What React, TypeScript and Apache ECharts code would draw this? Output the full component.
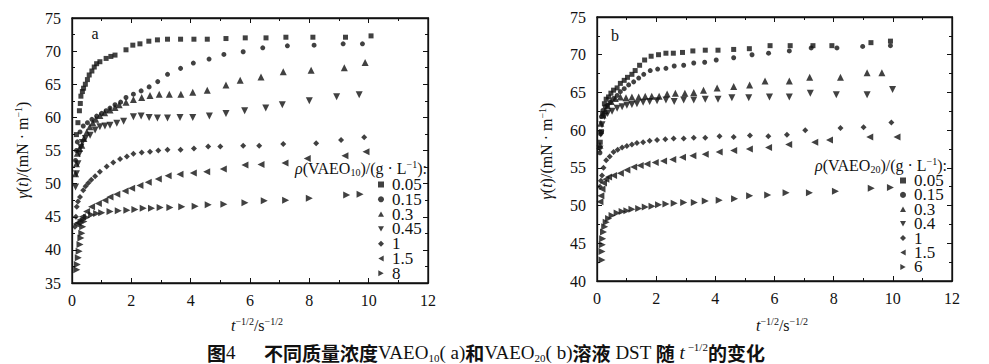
import React, { useEffect, useRef } from "react";
import * as echarts from "echarts";

// ---------- data (x = t^-1/2 in s^-1/2, y = gamma(t) in mN/m) ----------
// Panel a: VAEO10
const namesA = ["0.05", "0.15", "0.3", "0.45", "1", "1.5", "8"];
const a005 = [[0.15,57.4],[0.2,59.2],[0.25,61.0],[0.28,62.1],[0.3,63.2],[0.35,63.9],[0.39,64.4],[0.45,65.0],[0.52,65.7],[0.58,66.4],[0.67,67.0],[0.75,67.6],[0.83,68.1],[0.94,68.4],[1.15,68.9],[1.31,69.2],[1.45,69.4],[1.82,70.2],[2.05,70.9],[2.29,71.1],[2.59,71.5],[2.88,71.7],[3.22,71.8],[3.66,71.8],[4.11,71.8],[4.56,71.8],[5.19,71.9],[5.84,72.0],[6.54,72.0],[7.21,72.1],[8.12,72.1],[9.22,72.1],[10.08,72.3]];
const a015 = [[0.12,53.5],[0.15,55.0],[0.18,56.3],[0.27,57.8],[0.38,58.7],[0.52,59.2],[0.67,59.7],[0.83,60.2],[1.0,60.6],[1.15,61.0],[1.28,61.4],[1.45,61.9],[1.64,62.3],[1.82,63.0],[2.07,63.5],[2.33,64.0],[2.6,64.6],[2.89,65.4],[3.22,66.5],[3.66,67.4],[4.09,68.2],[4.62,68.8],[5.12,69.5],[5.77,69.9],[6.43,70.5],[7.26,70.8],[8.16,70.9],[9.14,71.1],[9.79,71.1]];
const a03 = [[0.12,51.5],[0.15,53.0],[0.18,54.6],[0.25,55.3],[0.33,55.8],[0.4,56.8],[0.5,57.8],[0.6,58.6],[0.7,59.2],[0.8,59.7],[0.94,60.3],[1.1,60.7],[1.28,61.1],[1.45,61.5],[1.59,61.9],[1.82,62.3],[2.07,62.7],[2.35,63.0],[2.63,63.3],[2.94,63.5],[3.28,63.5],[3.67,63.5],[4.07,63.8],[4.56,64.1],[5.19,64.9],[5.67,65.6],[6.37,66.1],[7.12,66.9],[8.06,67.1],[9.18,67.5],[9.88,68.3]];
const a045 = [[0.12,49.5],[0.15,51.5],[0.2,53.0],[0.25,54.5],[0.3,55.5],[0.35,56.2],[0.45,56.8],[0.61,57.3],[0.78,58.1],[0.94,58.6],[1.11,58.7],[1.28,58.8],[1.51,59.1],[1.74,59.4],[2.07,60.1],[2.33,60.2],[2.6,60.0],[2.88,59.9],[3.22,59.9],[3.64,60.0],[4.07,60.0],[4.63,60.2],[5.19,60.6],[5.82,61.0],[6.53,61.4],[7.09,61.9],[8.0,62.5],[8.92,63.1],[9.68,63.4]];
const a1 = [[0.1,43.5],[0.13,45.0],[0.16,46.5],[0.2,47.3],[0.27,48.0],[0.38,49.0],[0.46,49.6],[0.55,50.1],[0.65,50.6],[0.78,51.1],[0.94,51.8],[1.17,52.6],[1.39,53.2],[1.62,53.7],[1.85,54.1],[2.07,54.5],[2.35,54.7],[2.63,54.8],[2.91,55.0],[3.22,55.1],[3.66,55.1],[4.11,55.3],[4.59,55.6],[5.0,55.6],[5.77,55.7],[6.31,55.7],[7.12,56.0],[8.23,56.1],[9.07,56.6],[9.85,57.0]];
const a15 = [[0.14,43.9],[0.2,44.1],[0.27,44.5],[0.35,45.0],[0.49,45.8],[0.66,46.5],[0.89,47.0],[1.11,47.5],[1.28,48.0],[1.51,48.4],[1.79,48.9],[2.01,49.3],[2.29,49.7],[2.57,50.2],[2.91,50.7],[3.24,51.2],[3.64,51.4],[4.09,51.6],[4.54,51.8],[5.1,52.2],[5.83,52.8],[6.37,52.9],[7.18,53.1],[7.93,53.8],[9.2,54.2],[9.91,54.8]];
const a8 = [[0.16,37.0],[0.18,37.8],[0.21,38.8],[0.24,39.8],[0.27,40.8],[0.3,41.8],[0.33,42.5],[0.36,43.5],[0.4,44.3],[0.49,44.9],[0.66,45.3],[0.83,45.5],[1.0,45.6],[1.28,45.8],[1.56,45.9],[1.85,46.0],[2.12,46.1],[2.4,46.3],[2.68,46.3],[2.97,46.4],[3.3,46.4],[3.7,46.5],[4.15,46.6],[4.59,46.8],[5.12,46.9],[5.83,47.1],[6.48,47.4],[7.2,47.5],[8.0,47.8],[9.26,48.3],[9.71,48.4]];

// Panel b: VAEO20
const namesB = ["0.05", "0.15", "0.3", "0.4", "1", "1.5", "6"];
const b005 = [[0.11,58.4],[0.15,59.8],[0.19,62.2],[0.25,63.5],[0.31,64.1],[0.39,64.4],[0.47,64.9],[0.56,65.3],[0.68,65.6],[0.79,66.2],[0.92,66.6],[1.03,67.0],[1.18,67.4],[1.29,67.9],[1.44,68.6],[1.61,69.3],[1.83,69.8],[2.08,70.0],[2.33,70.2],[2.58,70.2],[2.89,70.3],[3.24,70.5],[3.66,70.6],[4.09,70.6],[4.62,70.7],[5.15,70.8],[5.85,71.2],[6.53,71.2],[7.3,71.2],[7.94,71.2],[9.26,71.6],[9.92,71.8]];
const b015 = [[0.1,57.0],[0.12,59.5],[0.15,61.8],[0.2,62.6],[0.28,63.1],[0.36,63.3],[0.45,63.7],[0.56,64.2],[0.68,64.6],[0.79,65.1],[0.92,65.5],[1.07,66.0],[1.24,66.4],[1.41,66.9],[1.58,67.4],[1.8,67.9],[2.05,68.1],[2.33,68.2],[2.61,68.5],[2.93,68.6],[3.27,68.9],[3.64,69.0],[4.03,69.3],[4.62,69.6],[5.24,70.0],[5.8,70.2],[6.5,70.5],[7.24,70.9],[8.11,70.9],[8.98,71.1],[9.92,71.2]];
const b03 = [[0.1,58.0],[0.13,60.9],[0.2,62.0],[0.28,62.6],[0.36,63.2],[0.48,63.8],[0.62,64.2],[0.79,64.4],[0.98,64.3],[1.18,64.4],[1.41,64.4],[1.63,64.5],[1.85,64.5],[2.1,64.5],[2.37,64.8],[2.65,64.9],[2.97,64.9],[3.27,65.0],[3.6,65.3],[4.06,65.6],[4.62,65.8],[5.16,66.0],[5.68,66.5],[6.5,66.5],[7.19,67.0],[8.23,67.0],[9.13,67.6],[9.63,67.6]];
const b04 = [[0.1,57.5],[0.13,59.5],[0.17,60.7],[0.25,61.8],[0.36,62.2],[0.51,62.5],[0.68,62.9],[0.85,63.1],[1.01,63.3],[1.18,63.4],[1.35,63.5],[1.56,63.7],[1.78,63.8],[2.03,63.9],[2.33,64.0],[2.61,63.8],[2.93,64.0],[3.27,64.0],[3.66,64.1],[4.09,64.1],[4.56,64.3],[5.13,64.3],[5.83,64.4],[6.5,64.4],[7.21,64.9],[8.09,64.7],[9.13,64.7],[9.99,65.4]];
const b1 = [[0.1,52.5],[0.13,53.3],[0.17,54.0],[0.22,55.0],[0.31,56.0],[0.43,56.5],[0.56,57.1],[0.7,57.4],[0.85,57.7],[1.01,57.9],[1.18,58.1],[1.35,58.3],[1.56,58.4],[1.78,58.6],[2.03,58.7],[2.31,58.8],[2.59,58.9],[2.93,58.9],[3.27,59.0],[3.66,59.0],[4.14,59.2],[4.62,59.1],[5.17,59.3],[5.79,59.2],[6.42,59.4],[7.04,60.0],[8.23,60.3],[9.01,60.4],[9.95,61.0]];
const b15 = [[0.1,50.5],[0.13,51.3],[0.17,52.2],[0.22,53.0],[0.3,53.5],[0.39,53.8],[0.56,54.0],[0.79,54.3],[1.01,54.7],[1.24,55.1],[1.46,55.3],[1.69,55.5],[1.97,55.7],[2.25,55.9],[2.56,56.1],[2.89,56.4],[3.24,56.6],[3.66,56.8],[4.13,57.1],[4.62,57.3],[5.15,57.5],[5.8,57.7],[6.48,58.1],[7.36,58.4],[7.86,58.7],[9.22,59.1],[10.14,59.1]];
const b6 = [[0.17,42.8],[0.17,43.9],[0.18,44.8],[0.19,45.6],[0.22,46.5],[0.26,47.2],[0.31,47.8],[0.39,48.3],[0.51,48.7],[0.68,49.0],[0.85,49.2],[1.01,49.3],[1.18,49.5],[1.41,49.6],[1.63,49.8],[1.86,49.9],[2.08,50.1],[2.33,50.2],[2.61,50.3],[2.93,50.4],[3.29,50.4],[3.66,50.6],[4.13,50.7],[4.65,50.9],[5.16,51.3],[5.77,51.4],[6.39,51.7],[7.18,51.7],[8.06,51.9],[9.27,52.3],[9.92,52.4]];

const seriesA = [a005, a015, a03, a045, a1, a15, a8];
const seriesB = [b005, b015, b03, b04, b1, b15, b6];

// symbol per concentration rank: square, circle, up, down, diamond, left, right
const symbols = ["rect", "circle", "triangle", "triangle", "diamond", "triangle", "triangle"];
const rotations = [0, 0, 0, 180, 0, 90, -90];
const sizes = [5, 5, 7, 7, 6, 7, 7];
const legendIcons = [
  "rect",
  "circle",
  "path://M5,0L10,9L0,9Z",
  "path://M0,0L10,0L5,9Z",
  "diamond",
  "path://M0,5L9,0L9,10Z",
  "path://M9,5L0,0L0,10Z",
];

const SERIF = "'Liberation Serif', 'Times New Roman', serif";
const CJK = "'Noto Sans CJK SC', sans-serif";

const rich = {
  n: { fontFamily: SERIF, fontSize: 16, color: "#111", lineHeight: 18, verticalAlign: "middle" },
  i: { fontFamily: SERIF, fontSize: 16, fontStyle: "italic", color: "#111", lineHeight: 18, verticalAlign: "middle" },
  sup: { fontFamily: SERIF, fontSize: 10, color: "#111", lineHeight: 10, verticalAlign: "top" },
  sub: { fontFamily: SERIF, fontSize: 10, color: "#111", lineHeight: 9, verticalAlign: "bottom" },
  c: { fontFamily: CJK, fontSize: 19, fontWeight: "bold", color: "#111", lineHeight: 22, verticalAlign: "middle" },
  cn: { fontFamily: SERIF, fontSize: 19, color: "#111", lineHeight: 22, verticalAlign: "middle" },
  csub: { fontFamily: SERIF, fontSize: 11, color: "#111", lineHeight: 10, verticalAlign: "bottom" },
  csup: { fontFamily: SERIF, fontSize: 11, color: "#111", lineHeight: 11, verticalAlign: "top" },
  ci: { fontFamily: SERIF, fontSize: 19, fontStyle: "italic", color: "#111", lineHeight: 22, verticalAlign: "middle" },
};

function xAxes(gridIndex: number, position: "bottom" | "top") {
  return {
    type: "value",
    gridIndex,
    position,
    min: 0,
    max: 12,
    interval: 2,
    axisLine: { show: true, onZero: false, lineStyle: { color: "#111", width: 1.3 } },
    axisTick: { show: true, inside: true, length: 5, lineStyle: { color: "#111", width: 1 } },
    minorTick: { show: true, splitNumber: 2, length: 3, lineStyle: { color: "#111", width: 1 } },
    splitLine: { show: false },
    axisLabel: {
      show: position === "bottom",
      color: "#111",
      fontFamily: SERIF,
      fontSize: 16,
      margin: 9,
    },
  };
}

function yAxes(gridIndex: number, position: "left" | "right", min: number) {
  return {
    type: "value",
    gridIndex,
    position,
    min,
    max: 75,
    interval: 5,
    axisLine: { show: true, onZero: false, lineStyle: { color: "#111", width: 1.3 } },
    axisTick: { show: true, inside: true, length: 5, lineStyle: { color: "#111", width: 1 } },
    minorTick: { show: true, splitNumber: 2, length: 3, lineStyle: { color: "#111", width: 1 } },
    splitLine: { show: false },
    axisLabel: {
      show: position === "left",
      color: "#111",
      fontFamily: SERIF,
      fontSize: 16,
      margin: 11,
    },
  };
}

function makeSeries(names: string[], data: number[][][], axisIndex: number) {
  return names.map((name, k) => ({
    type: "scatter",
    name,
    xAxisIndex: axisIndex,
    yAxisIndex: axisIndex,
    data: data[k],
    symbol: symbols[k],
    symbolRotate: rotations[k],
    symbolSize: sizes[k],
    itemStyle: { color: "#111" },
    silent: true,
  }));
}

function legendFor(names: string[], left: number, top: number, gap: number) {
  return {
    show: true,
    orient: "vertical",
    left,
    top,
    itemWidth: 6,
    itemHeight: 6,
    itemGap: gap,
    padding: 0,
    selectedMode: false,
    data: names.map((name, k) => ({ name, icon: legendIcons[k] })),
    textStyle: { color: "#111", fontFamily: SERIF, fontSize: 17, padding: [0, 0, 0, 3] },
  };
}

const yName = "{i|γ}{n|(}{i|t}{n|)/(mN · m}{sup|−1}{n|)}";
const xName = "{i|t}{sup|−1/2}{n|/s}{sup|−1/2}";
const legTitleA = "{i|ρ}{n|(VAEO}{sub|10}{n|)/(g · L}{sup|−1}{n|):}";
const legTitleB = "{i|ρ}{n|(VAEO}{sub|20}{n|)/(g · L}{sup|−1}{n|):}";
const caption =
  "{c|图}{cn|4      }{c|不同质量浓度}{cn|VAEO}{csub|10}{cn|( a)}{c|和}{cn|VAEO}{csub|20}{cn|( b)}{c|溶液}{cn| DST }{c|随}{cn| }{ci|t}{csup| −1/2}{c|的变化}";

function textEl(text: string, x: number, y: number, align: string, rotation = 0) {
  return {
    type: "text",
    x,
    y,
    rotation,
    silent: true,
    style: { text, rich, align, verticalAlign: "middle", fill: "#111" },
  };
}

export default function App() {
  const ref = useRef<HTMLDivElement>(null);
  useEffect(() => {
    if (!ref.current) return;
    const chart = echarts.init(ref.current, undefined, { renderer: "svg" });
    chart.setOption({
      animation: false,
      backgroundColor: "#fff",
      grid: [
        { left: 72, top: 18, width: 356, height: 265, show: true, borderColor: "#111", borderWidth: 1.3, backgroundColor: "transparent" },
        { left: 597, top: 17, width: 355, height: 264, show: true, borderColor: "#111", borderWidth: 1.3, backgroundColor: "transparent" },
      ],
      xAxis: [xAxes(0, "bottom"), xAxes(0, "top"), xAxes(1, "bottom"), xAxes(1, "top")],
      yAxis: [yAxes(0, "left", 35), yAxes(0, "right", 35), yAxes(1, "left", 40), yAxes(1, "right", 40)],
      legend: [legendFor(namesA, 378, 176, -2.2), legendFor(namesB, 900, 172, -2.6)],
      series: [...makeSeries(namesA, seriesA, 0), ...makeSeries(namesB, seriesB, 2)],
      graphic: [
        textEl("{n|a}", 95, 33, "center"),
        textEl("{n|b}", 615, 35, "center"),
        textEl(yName, 22, 150, "center", Math.PI / 2),
        textEl(yName, 546, 151, "center", Math.PI / 2),
        textEl(xName, 257, 325, "center"),
        textEl(xName, 782, 325, "center"),
        textEl(legTitleA, 427, 168, "right"),
        textEl(legTitleB, 947, 165, "right"),
        textEl(caption, 486, 352, "center"),
      ],
    });
    return () => chart.dispose();
  }, []);
  return (
    <div
      ref={ref}
      style={{ position: "fixed", left: 0, top: 0, width: 989, height: 364, background: "#fff" }}
    />
  );
}
